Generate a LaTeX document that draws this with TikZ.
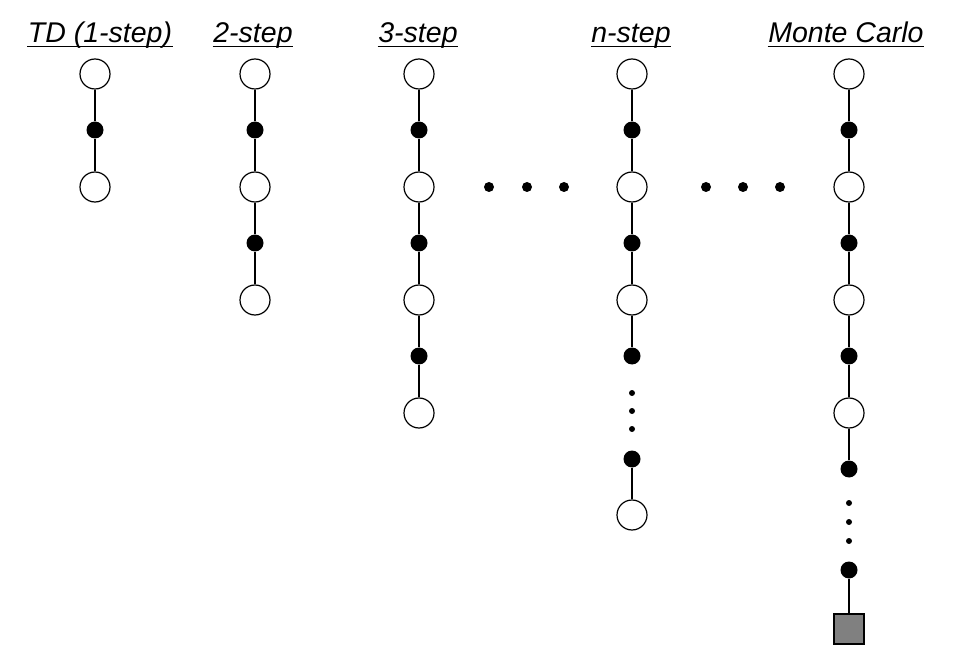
\documentclass[tikz,border=0pt]{standalone}
\usepackage{fontspec}
\setmainfont{Liberation Sans}
\begin{document}
\begin{tikzpicture}[x=1pt,y=-1pt,line width=1.3pt,
  state/.style={circle,draw,fill=white,minimum size=30pt,inner sep=0pt,line width=1.2pt},
  act/.style={circle,fill=black,minimum size=17pt,inner sep=0pt},
  hdot/.style={circle,fill=black,minimum size=10pt,inner sep=0pt},
  vdot/.style={circle,fill=black,minimum size=6pt,inner sep=0pt},
  term/.style={rectangle,draw,fill=gray,minimum size=30pt,inner sep=0pt,line width=1.2pt},
  ttl/.style={anchor=base,inner sep=0pt,font=\fontsize{28.5}{32}\selectfont\itshape},
  link/.style={draw,line width=1.3pt}]
\path[use as bounding box] (0,0) rectangle (964,668);

% titles
\node[ttl] (t1) at (100,43) {TD (1-step)};
\node[ttl] (t2) at (253,43) {2-step};
\node[ttl] (t3) at (418,43) {3-step};
\node[ttl] (t4) at (631,43) {n-step};
\node[ttl] (t5) at (846,43) {Monte Carlo};
\foreach \t in {t1,t2,t3,t4,t5}
  \draw[line width=1pt] ([yshift=-3.5pt]\t.base west) -- ([yshift=-3.5pt]\t.base east);

% TD (1-step)
\node[state] (As0) at (95,74) {};
\node[act]   (Aa0) at (95,130) {};
\node[state] (As1) at (95,187) {};
\draw[link] (As0) -- (Aa0) -- (As1);

% 2-step
\node[state] (Bs0) at (255,74) {};
\node[act]   (Ba0) at (255,130) {};
\node[state] (Bs1) at (255,187) {};
\node[act]   (Ba1) at (255,243) {};
\node[state] (Bs2) at (255,300) {};
\draw[link] (Bs0) -- (Ba0) -- (Bs1) -- (Ba1) -- (Bs2);

% 3-step
\node[state] (Cs0) at (419,74) {};
\node[act]   (Ca0) at (419,130) {};
\node[state] (Cs1) at (419,187) {};
\node[act]   (Ca1) at (419,243) {};
\node[state] (Cs2) at (419,300) {};
\node[act]   (Ca2) at (419,356) {};
\node[state] (Cs3) at (419,413) {};
\draw[link] (Cs0) -- (Ca0) -- (Cs1) -- (Ca1) -- (Cs2) -- (Ca2) -- (Cs3);

% horizontal ellipses
\node[hdot] (h1) at (489,187) {};
\node[hdot] (h2) at (527,187) {};
\node[hdot] (h3) at (564,187) {};
\node[hdot] (h4) at (706,187) {};
\node[hdot] (h5) at (743,187) {};
\node[hdot] (h6) at (780,187) {};

% n-step
\node[state] (Ds0) at (632,74) {};
\node[act]   (Da0) at (632,130) {};
\node[state] (Ds1) at (632,187) {};
\node[act]   (Da1) at (632,243) {};
\node[state] (Ds2) at (632,300) {};
\node[act]   (Da2) at (632,356) {};
\node[vdot]  (Dv1) at (632,393) {};
\node[vdot]  (Dv2) at (632,411) {};
\node[vdot]  (Dv3) at (632,429) {};
\node[act]   (Da3) at (632,459) {};
\node[state] (Ds3) at (632,515) {};
\draw[link] (Ds0) -- (Da0) -- (Ds1) -- (Da1) -- (Ds2) -- (Da2);
\draw[link] (Da3) -- (Ds3);

% Monte Carlo
\node[state] (Es0) at (849,74) {};
\node[act]   (Ea0) at (849,130) {};
\node[state] (Es1) at (849,187) {};
\node[act]   (Ea1) at (849,243) {};
\node[state] (Es2) at (849,300) {};
\node[act]   (Ea2) at (849,356) {};
\node[state] (Es3) at (849,413) {};
\node[act]   (Ea3) at (849,469) {};
\node[vdot]  (Ev1) at (849,503) {};
\node[vdot]  (Ev2) at (849,522) {};
\node[vdot]  (Ev3) at (849,541) {};
\node[act]   (Ea4) at (849,570) {};
\node[term]  (Eterm) at (849,629) {};
\draw[link] (Es0) -- (Ea0) -- (Es1) -- (Ea1) -- (Es2) -- (Ea2) -- (Es3) -- (Ea3);
\draw[link] (Ea4) -- (Eterm);
\end{tikzpicture}
\end{document}
